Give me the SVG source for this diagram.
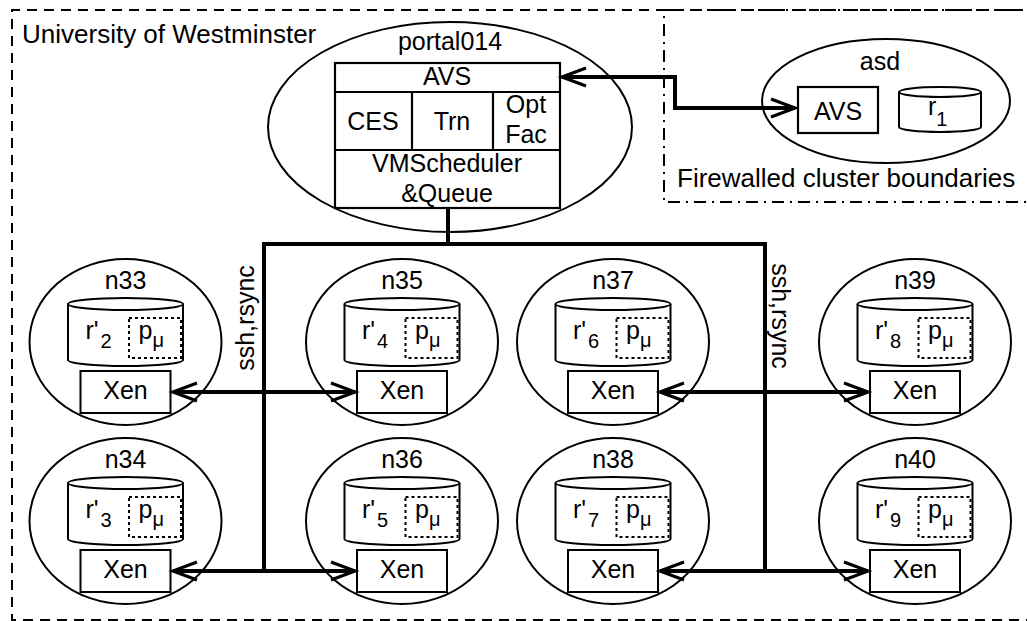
<svg xmlns="http://www.w3.org/2000/svg" width="1027" height="621" viewBox="0 0 1027 621">
<style>
text{font-family:"Liberation Sans",Arial,Helvetica,sans-serif;font-size:25px;fill:#000;text-anchor:middle}
.big{font-size:26px;text-anchor:start}
.sub{font-size:20px}
.st{text-anchor:start}
.ol{fill:#fff;stroke:#000;stroke-width:2}
.box{fill:none;stroke:#000;stroke-width:2.2}
.dot{fill:none;stroke:#000;stroke-width:2;stroke-dasharray:3 3}
.conn{fill:none;stroke:#000;stroke-width:4}
</style>
<defs>
<marker id="ah" markerUnits="userSpaceOnUse" markerWidth="34" markerHeight="26" viewBox="-28 -13 34 26" refX="0" refY="0" orient="auto-start-reverse">
<path d="M -24 -9 L 0 0 L -24 9" fill="none" stroke="#000" stroke-width="3.2"/>
</marker>
<g id="cyl">
<path d="M -57.5 -38 L -57.5 18 A 57.5 6 0 0 0 57.5 18 L 57.5 -38" class="ol"/>
<ellipse cx="0" cy="-38" rx="57.5" ry="6" class="ol"/>
<rect x="3.5" y="-24" width="52" height="40" class="dot"/>
<rect x="-45" y="29" width="90" height="42" class="ol"/>
<text x="0" y="57">Xen</text>
<text class="st" x="13" y="-3">p<tspan class="sub" dy="8">μ</tspan></text>
</g>
</defs>
<rect width="1027" height="621" fill="#fff"/>
<g id="boundaries">
<path d="M 1040 10 H 12 V 620 H 1040" fill="none" stroke="#000" stroke-width="2" stroke-dasharray="10 7"/>
<path d="M 1040 10 H 664 V 202 H 1040" fill="none" stroke="#000" stroke-width="2" stroke-dasharray="12 6 2 6"/>
<text class="big" x="22" y="43">University of Westminster</text>
<text class="big" x="677" y="187">Firewalled cluster boundaries</text>
</g>
<g id="portal014">
<ellipse cx="450" cy="127" rx="182" ry="105" class="ol"/>
<text x="450" y="50">portal014</text>
<rect x="335" y="63" width="225" height="145" class="box"/>
<path d="M 335 92 H 560 M 335 150 H 560 M 412 92 V 150 M 493 92 V 150" class="box"/>
<text x="447" y="85">AVS</text>
<text x="373" y="130">CES</text>
<text x="452" y="130">Trn</text>
<text x="526" y="113">Opt</text>
<text x="526" y="143">Fac</text>
<text x="447" y="172">VMScheduler</text>
<text x="447" y="202">&amp;Queue</text>
</g>
<g id="asd">
<ellipse cx="886" cy="101" rx="124" ry="62" class="ol"/>
<text x="880" y="70">asd</text>
<rect x="798" y="87" width="80" height="46" class="box"/>
<text x="838" y="120">AVS</text>
<path d="M 899 92 L 899 127 A 41 5 0 0 0 981 127 L 981 92" class="ol"/>
<ellipse cx="940" cy="92" rx="41" ry="5" class="ol"/>
<text class="st" x="928" y="115">r<tspan class="sub" dy="11">1</tspan></text>
</g>
<g id="n33" transform="translate(125.5,342)">
<ellipse cx="0" cy="0" rx="96" ry="83" class="ol"/>
<text x="0" y="-53">n33</text>
<use href="#cyl"/>
<text class="st" x="-40" y="-3">r'<tspan class="sub" dx="2" dy="9">2</tspan></text>
</g>
<g id="n34" transform="translate(125.5,521)">
<ellipse cx="0" cy="0" rx="96" ry="83" class="ol"/>
<text x="0" y="-53">n34</text>
<use href="#cyl"/>
<text class="st" x="-40" y="-3">r'<tspan class="sub" dx="2" dy="9">3</tspan></text>
</g>
<g id="n35" transform="translate(402,342)">
<ellipse cx="0" cy="0" rx="96" ry="83" class="ol"/>
<text x="0" y="-53">n35</text>
<use href="#cyl"/>
<text class="st" x="-40" y="-3">r'<tspan class="sub" dx="2" dy="9">4</tspan></text>
</g>
<g id="n36" transform="translate(402,521)">
<ellipse cx="0" cy="0" rx="96" ry="83" class="ol"/>
<text x="0" y="-53">n36</text>
<use href="#cyl"/>
<text class="st" x="-40" y="-3">r'<tspan class="sub" dx="2" dy="9">5</tspan></text>
</g>
<g id="n37" transform="translate(613,342)">
<ellipse cx="0" cy="0" rx="96" ry="83" class="ol"/>
<text x="0" y="-53">n37</text>
<use href="#cyl"/>
<text class="st" x="-40" y="-3">r'<tspan class="sub" dx="2" dy="9">6</tspan></text>
</g>
<g id="n38" transform="translate(613,521)">
<ellipse cx="0" cy="0" rx="96" ry="83" class="ol"/>
<text x="0" y="-53">n38</text>
<use href="#cyl"/>
<text class="st" x="-40" y="-3">r'<tspan class="sub" dx="2" dy="9">7</tspan></text>
</g>
<g id="n39" transform="translate(915,342)">
<ellipse cx="0" cy="0" rx="96" ry="83" class="ol"/>
<text x="0" y="-53">n39</text>
<use href="#cyl"/>
<text class="st" x="-40" y="-3">r'<tspan class="sub" dx="2" dy="9">8</tspan></text>
</g>
<g id="n40" transform="translate(915,521)">
<ellipse cx="0" cy="0" rx="96" ry="83" class="ol"/>
<text x="0" y="-53">n40</text>
<use href="#cyl"/>
<text class="st" x="-40" y="-3">r'<tspan class="sub" dx="2" dy="9">9</tspan></text>
</g>
<g id="connectors">
<path d="M 562 77 H 675 V 108 H 795" class="conn" marker-start="url(#ah)" marker-end="url(#ah)"/>
<path d="M 448 208 V 244" class="conn"/>
<path d="M 264 571 V 244 H 765 V 571" class="conn"/>
<path d="M 173 392 H 355" class="conn" marker-start="url(#ah)" marker-end="url(#ah)"/>
<path d="M 660 392 H 868" class="conn" marker-start="url(#ah)" marker-end="url(#ah)"/>
<path d="M 173 571 H 355" class="conn" marker-start="url(#ah)" marker-end="url(#ah)"/>
<path d="M 660 571 H 868" class="conn" marker-start="url(#ah)" marker-end="url(#ah)"/>
<text transform="translate(254,318) rotate(-90)">ssh,rsync</text>
<text transform="translate(772,316) rotate(90)">ssh,rsync</text>
</g>
</svg>
